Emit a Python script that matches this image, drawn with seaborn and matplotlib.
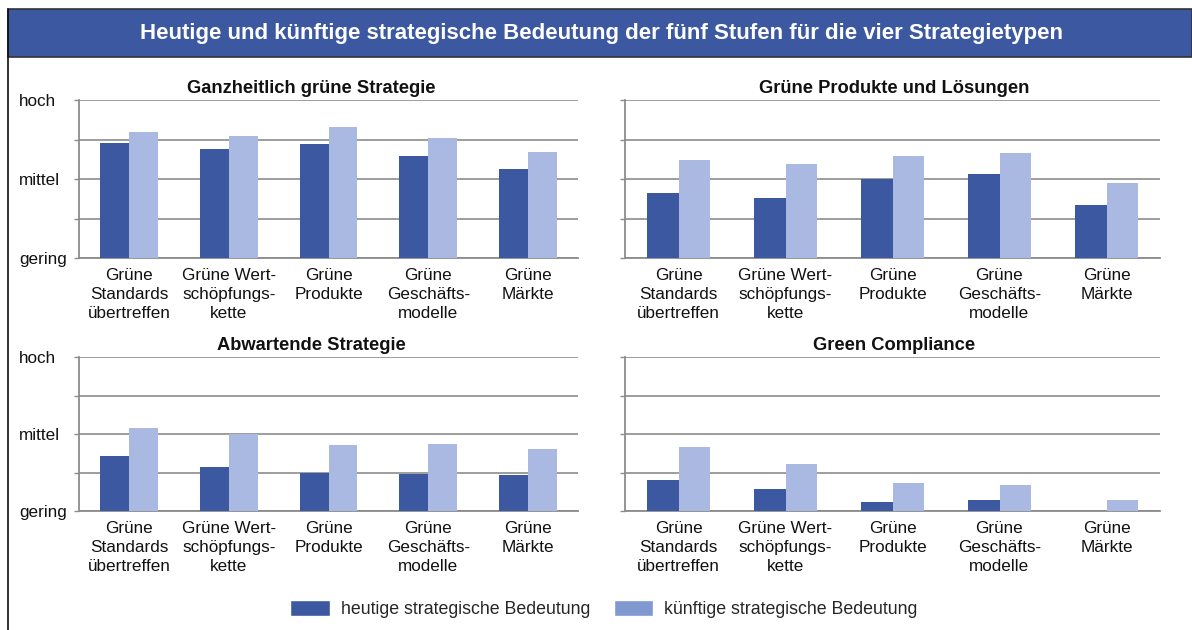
import pandas as pd
import matplotlib.pyplot as plt
import seaborn as sns
from matplotlib.patches import Patch, Rectangle
from matplotlib.lines import Line2D

sns.set_theme(style='white')
plt.rcParams['font.family'] = ['Liberation Sans', 'DejaVu Sans']

# Data (0 = gering, 2 = mittel, 4 = hoch)
stufen = ['Grüne\nStandards\nübertreffen', 'Grüne Wert-\nschöpfungs-\nkette',
          'Grüne\nProdukte', 'Grüne\nGeschäfts-\nmodelle', 'Grüne\nMärkte']
series_names = ['heutige strategische Bedeutung', 'künftige strategische Bedeutung']
panel_titles = ['Ganzheitlich grüne Strategie', 'Grüne Produkte und Lösungen',
                'Abwartende Strategie', 'Green Compliance']

ganzheitlich_heute = [2.92, 2.77, 2.89, 2.59, 2.25]
ganzheitlich_kuenftig = [3.19, 3.10, 3.32, 3.05, 2.68]
produkte_heute = [1.65, 1.53, 2.01, 2.12, 1.34]
produkte_kuenftig = [2.47, 2.37, 2.59, 2.66, 1.90]
abwartend_heute = [1.43, 1.15, 1.00, 0.97, 0.93]
abwartend_kuenftig = [2.16, 2.01, 1.71, 1.74, 1.62]
compliance_heute = [0.81, 0.56, 0.23, 0.29, 0.0]
compliance_kuenftig = [1.67, 1.21, 0.72, 0.67, 0.29]

y_ticks = [0, 1, 2, 3, 4]
y_labels = ['gering', '', 'mittel', '', 'hoch']

DARK = '#3c58a1'
LIGHT = '#aab9e1'
LEGEND_LIGHT = '#8099d0'
GRID = '#8c8c8c'

panels = [
    (ganzheitlich_heute, ganzheitlich_kuenftig),
    (produkte_heute, produkte_kuenftig),
    (abwartend_heute, abwartend_kuenftig),
    (compliance_heute, compliance_kuenftig),
]

W, H = 1192, 630
fig = plt.figure(figsize=(W / 100, H / 100), dpi=100)

# axes boxes in pixels: left, top, right, bottom
boxes = [(79, 100, 578, 258), (625, 100, 1160, 258),
         (79, 357, 578, 511), (625, 357, 1160, 511)]
title_x = [0.465, 0.503, 0.465, 0.503]

for i, (heute, kuenftig) in enumerate(panels):
    l, t, r, b = boxes[i]
    ax = fig.add_axes([l / W, 1 - b / H, (r - l) / W, (b - t) / H])
    df = pd.DataFrame({
        'Stufe': stufen * 2,
        'Wert': heute + kuenftig,
        'Serie': [series_names[0]] * 5 + [series_names[1]] * 5,
    })
    sns.barplot(data=df, x='Stufe', y='Wert', hue='Serie', order=stufen,
                hue_order=series_names, palette=[DARK, LIGHT], width=0.58,
                saturation=1, legend=False, linewidth=0, ax=ax, zorder=3)
    ax.set_xlim(-0.5, 4.5)
    ax.set_ylim(0, 4)
    ax.set_yticks(y_ticks)
    ax.set_xticks(range(5))
    ax.set_xticklabels(stufen, fontsize=12.3, color='#111111', linespacing=1.33)
    ax.tick_params(axis='x', length=0, pad=7.5)
    # category boundary ticks
    ax.set_xticks([k - 0.5 for k in range(6)], minor=True)
    ax.tick_params(axis='x', which='minor', length=3.6, width=1, color=GRID, direction='out')
    ax.tick_params(axis='y', length=3.6, width=1, color=GRID, direction='out', left=True)
    if i % 2 == 0:
        ax.set_yticklabels(y_labels, fontsize=12.3, color='#111111', ha='left')
        ax.tick_params(axis='y', pad=39.6)
    else:
        ax.set_yticklabels([])
    ax.grid(axis='y', color=GRID, lw=1.2, zorder=0)
    ax.set_axisbelow(True)
    for s in ['top', 'right']:
        ax.spines[s].set_visible(False)
    for s in ['left', 'bottom']:
        ax.spines[s].set_color(GRID)
        ax.spines[s].set_linewidth(1.3)
    ax.set_xlabel('')
    ax.set_ylabel('')
    ax.set_title(panel_titles[i], fontsize=13.2, fontweight='bold', pad=5,
                 color='#111111', x=title_x[i])

# title bar
fig.patches.append(Rectangle((8 / W, 1 - 57 / H), 1 - 8 / W, 48 / H, transform=fig.transFigure,
                             facecolor='#3c58a1', edgecolor='#333333', lw=1.2))
fig.text(601 / W, 1 - 33 / H,
         'Heutige und künftige strategische Bedeutung der fünf Stufen für die vier Strategietypen',
         color='white', fontsize=16, fontweight='bold', ha='center', va='center')
# left frame line
fig.lines.append(Line2D([8 / W, 8 / W], [0, 1 - 9 / H], transform=fig.transFigure,
                        color='#111111', lw=1.2))

handles = [Patch(facecolor=DARK), Patch(facecolor=LEGEND_LIGHT)]
fig.legend(handles, series_names, loc='center', bbox_to_anchor=(604 / W, 1 - 609 / H),
           ncol=2, frameon=False, fontsize=12.8, handlelength=2.2, handleheight=1.0,
           handletextpad=0.65, columnspacing=1.3)

fig.savefig('out.png', dpi=100)
